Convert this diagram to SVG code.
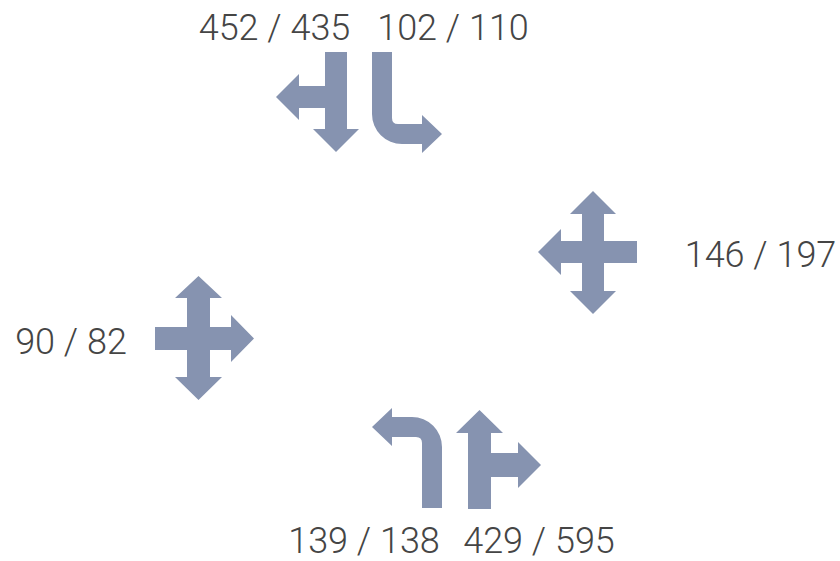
<svg xmlns="http://www.w3.org/2000/svg" width="840" height="561" viewBox="0 0 840 561">
<style>
.arr{fill:#8693b0;stroke:none}
.lbl{font-family:Roboto,"Liberation Sans",Arial,sans-serif;font-weight:300;font-size:36px;fill:#454545;text-anchor:middle}
</style>
<rect width="840" height="561" fill="#ffffff"/>
<g id="connectors"></g>
<g id="north-left-through">
<path class="arr" d="M325,52 H347 V129 H359 L336,152 L313,129 H325 V108 H299 V120 L276,97 L299,74 V86 H325 Z"/>
<text class="lbl" x="274.5" y="40">452 / 435</text>
</g>
<g id="north-right">
<path class="arr" d="M372,52 H392 V118 Q392,124 398,124 H422 V115 L442,134 L422,153 V144 H402 A30,30 0 0 1 372,114 Z"/>
<text class="lbl" x="453" y="40">102 / 110</text>
</g>
<g id="east">
<path class="arr" d="M582,214 H570 L593,191 L616,214 H604 V241 H637 V263 H604 V291 H616 L593,314 L570,291 H582 V263 H561 V275 L538,252 L561,229 V241 H582 Z"/>
<text class="lbl" x="760.5" y="267">146 / 197</text>
</g>
<g id="west">
<path class="arr" d="M187,298 H175 L198.5,276 L222,298 H210 V327 H231 V315 L254,338.5 L231,362 V350 H210 V377 H222 L198.5,400 L175,377 H187 V350 H155 V327 H187 Z"/>
<text class="lbl" x="71" y="354">90 / 82</text>
</g>
<g id="south-left">
<path class="arr" d="M442,508 H422 V443 Q422,437 416,437 H392 V446 L372,427 L392,408 V417 H412 A30,30 0 0 1 442,447 Z"/>
<text class="lbl" x="364" y="553">139 / 138</text>
</g>
<g id="south-through-right">
<path class="arr" d="M468,509 V433 H456 L479.5,410 L503,433 H491 V453 H518 V442 L541,465 L518,488 V477 H491 V509 Z"/>
<text class="lbl" x="539" y="553">429 / 595</text>
</g>
</svg>
